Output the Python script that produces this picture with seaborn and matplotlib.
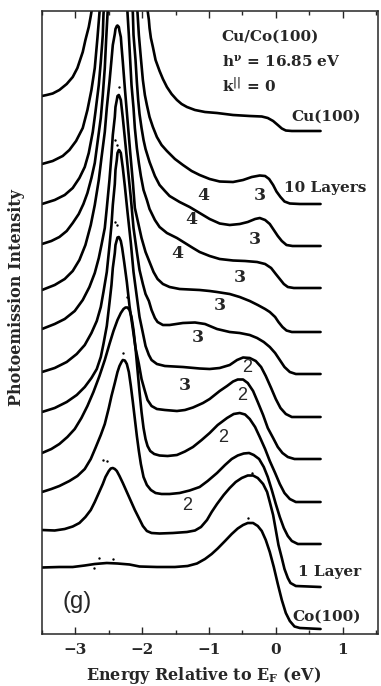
import matplotlib
matplotlib.use("Agg")
import matplotlib.pyplot as plt
import numpy as np
import pandas as pd
import seaborn as sns
from matplotlib.ticker import MultipleLocator

# Normal-emission photoemission spectra, Cu overlayers on Co(100), hv = 16.85 eV.
# Energies in eV relative to E_F, intensities in arbitrary units (0 = level above E_F).
# Spectra whose Cu d-band peak runs off scale carry an estimated off-scale maximum.

cu100_energy = [-3.50, -3.43, -3.34, -3.24, -3.13, -3.04, -2.97, -2.89, -2.85, -2.80, -2.77,
                -2.75, -2.68, -2.55, -2.40, -2.20, -2.02, -1.92, -1.90, -1.89, -1.87, -1.84,
                -1.80, -1.74, -1.69, -1.63, -1.56, -1.48, -1.41, -1.33, -1.21, -1.06, -0.88,
                -0.64, -0.39, -0.21, -0.12, -0.04, 0.03, 0.09, 0.15, 0.24, 0.67]
cu100_counts = [35, 36, 37.5, 41, 47, 54, 63, 79, 91, 104, 115,
                123, 200, 300, 350, 300, 200, 121, 111, 103, 93, 84,
                71, 60, 52, 44, 37, 31, 27, 24, 21, 19, 18,
                16, 15, 14.5, 13, 10, 6, 2.5, 0.5, 0, 0]

ml10_energy = [-3.50, -3.34, -3.19, -3.09, -2.99, -2.89, -2.82, -2.76, -2.71, -2.67, -2.64,
               -2.57, -2.45, -2.35, -2.22, -2.12, -2.07, -2.05, -2.02, -1.99, -1.96, -1.93,
               -1.89, -1.84, -1.78, -1.71, -1.63, -1.51, -1.39, -1.26, -1.14, -0.99, -0.84,
               -0.64, -0.49, -0.36, -0.24, -0.16, -0.10, -0.04, 0.01, 0.07, 0.13, 0.21,
               0.36, 0.67]
ml10_counts = [40, 43, 48, 54, 63, 76, 94, 114, 136, 166, 191,
               260, 330, 350, 320, 250, 191, 169, 146, 124, 109, 99,
               87, 77, 67, 59, 53, 45, 39, 33, 29, 25, 22.5,
               22, 24, 27, 28.5, 28, 25, 19, 12.5, 7, 2.5, 0.5,
               0, 0]

ml9_energy = [-3.50, -3.31, -3.16, -3.04, -2.94, -2.86, -2.80, -2.74, -2.70, -2.65, -2.62,
              -2.59, -2.58, -2.52, -2.42, -2.34, -2.24, -2.17, -2.14, -2.13, -2.10, -2.08,
              -2.06, -2.04, -2.01, -1.98, -1.95, -1.89, -1.81, -1.74, -1.66, -1.59, -1.44,
              -1.29, -1.14, -0.99, -0.84, -0.69, -0.54, -0.42, -0.31, -0.24, -0.16, -0.09,
              -0.03, 0.03, 0.09, 0.16, 0.25, 0.67]
ml9_counts = [42, 46, 51, 58, 68, 79, 93, 114, 134, 161, 184,
              211, 231, 300, 360, 370, 330, 260, 233, 211, 186, 164,
              146, 132, 118, 106, 97, 84, 70, 61, 55, 50, 44,
              39, 33, 27, 22.5, 21, 22, 24, 27, 28, 26, 22,
              16, 10, 5, 1, 0, 0]

ml8_energy = [-3.50, -3.36, -3.24, -3.13, -3.04, -2.95, -2.88, -2.82, -2.76, -2.71, -2.67,
              -2.62, -2.59, -2.56, -2.54, -2.52, -2.46, -2.38, -2.30, -2.24, -2.22, -2.20,
              -2.18, -2.16, -2.13, -2.11, -2.08, -2.05, -2.02, -1.98, -1.93, -1.89, -1.81,
              -1.74, -1.63, -1.48, -1.36, -1.24, -1.14, -0.99, -0.84, -0.64, -0.46, -0.28,
              -0.16, -0.07, 0.00, 0.06, 0.12, 0.18, 0.27, 0.67]
ml8_counts = [44, 47, 51, 57, 65, 74, 84, 95, 110, 125, 145,
              170, 193, 220, 248, 273, 340, 385, 370, 310, 275, 253,
              228, 203, 180, 160, 140, 125, 112, 98, 88, 79, 68,
              61, 55, 50, 45, 40, 36, 32, 29, 27.5, 27, 26,
              24, 20, 14, 9, 4, 1, 0, 0]

ml7_energy = [-3.50, -3.31, -3.16, -3.04, -2.94, -2.85, -2.77, -2.71, -2.65, -2.61, -2.56,
              -2.53, -2.49, -2.46, -2.44, -2.41, -2.40, -2.38, -2.37, -2.35, -2.34, -2.32,
              -2.31, -2.29, -2.26, -2.22, -2.18, -2.14, -2.11, -2.07, -2.01, -1.95, -1.89,
              -1.83, -1.77, -1.69, -1.59, -1.44, -1.29, -1.14, -0.99, -0.88, -0.69, -0.54,
              -0.39, -0.27, -0.16, -0.09, -0.01, 0.04, 0.10, 0.16, 0.24, 0.67]
ml7_counts = [42, 47, 53, 61, 72, 87, 107, 127, 152, 174, 200,
              224, 250, 272, 287, 298, 303, 306, 306.5, 305, 301, 295,
              286, 270, 244, 212, 180, 150, 124, 112, 94, 80, 70,
              60, 53, 48, 45, 43, 42.5, 42, 41, 40, 38, 35,
              31, 27, 23, 20, 15, 10, 5, 1.5, 0, 0]

ml6_energy = [-3.50, -3.31, -3.16, -3.01, -2.89, -2.79, -2.71, -2.65, -2.61, -2.56, -2.53,
              -2.49, -2.46, -2.44, -2.41, -2.40, -2.38, -2.37, -2.35, -2.34, -2.32, -2.31,
              -2.29, -2.26, -2.22, -2.17, -2.13, -2.08, -2.04, -1.99, -1.95, -1.90, -1.86,
              -1.81, -1.77, -1.69, -1.59, -1.39, -1.21, -1.06, -0.88, -0.69, -0.54, -0.39,
              -0.28, -0.18, -0.09, -0.01, 0.06, 0.13, 0.21, 0.30, 0.67]
ml6_counts = [45, 50, 55, 63, 74, 87, 101, 116, 129, 146, 166,
              194, 219, 239, 257, 267, 274, 278, 279, 277.5, 274, 268,
              256, 236, 209, 176, 146, 122, 104, 90, 80, 73, 64,
              56, 52, 49, 49, 51, 51.5, 50, 45, 42, 41, 39,
              36, 32, 27, 21, 14, 7, 2, 0, 0]

ml5_energy = [-3.50, -3.31, -3.13, -2.98, -2.86, -2.76, -2.68, -2.62, -2.58, -2.53, -2.49,
              -2.46, -2.44, -2.41, -2.40, -2.38, -2.37, -2.35, -2.34, -2.32, -2.31, -2.29,
              -2.26, -2.22, -2.17, -2.13, -2.08, -2.04, -1.99, -1.95, -1.90, -1.86, -1.78,
              -1.66, -1.39, -1.14, -0.99, -0.84, -0.69, -0.58, -0.49, -0.39, -0.30, -0.22,
              -0.15, -0.07, 0.00, 0.07, 0.15, 0.24, 0.67]
ml5_counts = [45, 49, 55, 63, 72, 84, 96, 110, 125, 145, 171,
              192, 212, 233, 247, 257, 264, 267, 266.5, 264, 259, 249,
              231, 205, 174, 145, 120, 100, 84, 71, 62, 57, 53,
              51, 50, 48.5, 48, 49, 52, 57, 59.5, 59, 56, 50,
              41, 29, 18, 9, 3, 0, 0]

ml4_energy = [-3.50, -3.31, -3.13, -2.98, -2.86, -2.76, -2.68, -2.62, -2.58, -2.53, -2.49,
              -2.46, -2.44, -2.41, -2.40, -2.38, -2.37, -2.35, -2.34, -2.32, -2.30, -2.27,
              -2.23, -2.19, -2.14, -2.10, -2.05, -2.01, -1.96, -1.92, -1.86, -1.78, -1.66,
              -1.48, -1.36, -1.24, -1.09, -0.99, -0.84, -0.73, -0.64, -0.57, -0.49, -0.42,
              -0.34, -0.27, -0.19, -0.12, -0.04, 0.03, 0.10, 0.18, 0.28, 0.67]
ml4_counts = [47, 51, 57, 64, 72, 81, 90, 102, 115, 133, 156,
              174, 191, 206, 214, 219, 221.5, 222, 221, 218, 211, 197,
              177, 153, 130, 111, 95, 80, 68, 59, 53, 50, 49,
              48, 49, 51.5, 56, 60, 68, 73, 77.5, 79.5, 79.5, 76,
              68, 57, 44, 31, 21, 12, 6, 2, 0, 0]

ml3_energy = [-3.50, -3.36, -3.24, -3.12, -3.01, -2.91, -2.82, -2.73, -2.64, -2.56, -2.49,
              -2.43, -2.37, -2.32, -2.28, -2.25, -2.22, -2.19, -2.16, -2.13, -2.10, -2.07,
              -2.04, -2.01, -1.98, -1.95, -1.92, -1.88, -1.82, -1.74, -1.62, -1.48, -1.36,
              -1.24, -1.11, -0.99, -0.87, -0.73, -0.63, -0.54, -0.46, -0.39, -0.31, -0.24,
              -0.16, -0.09, -0.01, 0.06, 0.13, 0.21, 0.30, 0.67]
ml3_counts = [49, 53, 58, 65, 73, 84, 96, 110, 126, 142, 158,
              171, 182, 189, 193, 194.5, 194.5, 192, 185, 172, 154, 132,
              110, 90, 74, 63, 56, 51, 48, 46.5, 46, 47, 50.5,
              55, 62, 69, 77, 84, 88, 89, 87.5, 83, 75, 65,
              53, 41, 29, 18, 9, 3, 0, 0]

ml2_energy = [-3.50, -3.36, -3.24, -3.09, -2.97, -2.86, -2.77, -2.70, -2.62, -2.56, -2.50,
              -2.46, -2.41, -2.37, -2.34, -2.31, -2.29, -2.26, -2.23, -2.20, -2.17, -2.14,
              -2.11, -2.08, -2.05, -2.02, -1.98, -1.93, -1.87, -1.80, -1.71, -1.59, -1.44,
              -1.29, -1.14, -1.02, -0.88, -0.76, -0.66, -0.57, -0.48, -0.40, -0.33, -0.25,
              -0.18, -0.12, -0.06, 0.00, 0.06, 0.12, 0.18, 0.24, 0.33, 0.67]
ml2_counts = [52, 55, 58, 63, 68, 75, 85, 96, 109, 120, 136,
              148, 161, 172, 178, 182, 184, 183.5, 180, 172, 158, 142,
              125, 108, 93, 80, 67, 59, 54, 51, 50, 50, 51,
              53.5, 57, 63, 71, 79, 85, 88.5, 90.5, 91, 89, 85,
              77, 67, 54, 40, 27, 16, 8, 3, 0, 0]

ml1_energy = [-3.50, -3.31, -3.16, -3.04, -2.94, -2.85, -2.77, -2.71, -2.65, -2.59, -2.55,
              -2.50, -2.47, -2.44, -2.41, -2.38, -2.34, -2.29, -2.23, -2.17, -2.11, -2.05,
              -1.99, -1.93, -1.86, -1.74, -1.54, -1.33, -1.21, -1.12, -1.03, -0.96, -0.88,
              -0.78, -0.69, -0.60, -0.51, -0.42, -0.34, -0.27, -0.19, -0.13, -0.09, -0.04,
              0.00, 0.04, 0.09, 0.13, 0.18, 0.22, 0.30, 0.67]
ml1_counts = [57, 56.5, 58, 60.5, 64, 70, 77, 85, 94, 103, 110,
              116, 118.5, 119, 118, 116, 111, 104, 95, 86, 77, 69,
              61, 56, 54, 53.5, 54, 55, 56.5, 60, 67, 75, 83,
              92, 99, 105, 109, 111.5, 111.5, 109, 103, 95, 85, 72,
              57, 42, 29, 18, 9, 4, 1, 0]

co100_energy = [-3.50, -3.24, -3.04, -2.86, -2.71, -2.53, -2.37, -2.19, -2.04, -1.78, -1.51,
                -1.32, -1.18, -1.06, -0.96, -0.87, -0.76, -0.66, -0.57, -0.49, -0.42, -0.34,
                -0.27, -0.21, -0.15, -0.09, -0.03, 0.03, 0.09, 0.15, 0.21, 0.28, 0.36, 0.67]
co100_counts = [61.5, 62, 62, 63.5, 65, 66, 65.5, 64.5, 62.5, 62, 62,
                63, 65.5, 70, 75, 80.5, 88, 95, 100.5, 104, 106, 106,
                103, 98, 89, 77, 62, 45, 29, 16, 8, 2.5, 1, 0]

spectrum_names = ["Cu(100)", "10 Layers", "ML9", "ML8", "ML7", "ML6", "ML5",
                  "ML4", "ML3", "ML2", "1 Layer", "Co(100)"]
spectrum_offsets = [503, 430, 388, 346, 302, 260, 217, 175, 132, 90, 47, 5]
spectrum_energies = [cu100_energy, ml10_energy, ml9_energy, ml8_energy, ml7_energy,
                     ml6_energy, ml5_energy, ml4_energy, ml3_energy, ml2_energy,
                     ml1_energy, co100_energy]
spectrum_counts = [cu100_counts, ml10_counts, ml9_counts, ml8_counts, ml7_counts,
                   ml6_counts, ml5_counts, ml4_counts, ml3_counts, ml2_counts,
                   ml1_counts, co100_counts]

# stray raw data points lying off the smoothed traces (stacked scale)
stray_energy = [-2.34, -2.37, -2.40, -2.38, -2.41, -2.23, -2.29, -2.59, -2.52,
                -0.42, -0.36, -2.64, -2.44, -2.72]
stray_height = [547, 489, 494, 409, 412, 337, 281, 174, 173,
                116, 161, 76, 75, 66]

# quantum-well state labels: (text, energy, height)
qw_labels_bold = [("4", -1.08, 439), ("4", -1.27, 414), ("4", -1.47, 381),
                  ("3", -0.24, 439), ("3", -0.31, 395), ("3", -0.54, 356),
                  ("3", -0.84, 329), ("3", -1.17, 297), ("3", -1.36, 249)]
qw_labels_light = [("2", -0.43, 266), ("2", -0.51, 239), ("2", -0.79, 197), ("2", -1.32, 128)]

frames = []
for name, off, e, c in zip(spectrum_names, spectrum_offsets, spectrum_energies, spectrum_counts):
    frames.append(pd.DataFrame({"energy": e,
                                "intensity": np.asarray(c, float) + off,
                                "spectrum": name}))
df = pd.concat(frames, ignore_index=True)

sns.set_style("ticks")
plt.rcParams["font.family"] = ["DejaVu Serif"]
plt.rcParams["font.weight"] = "bold"
plt.rcParams["mathtext.fontset"] = "dejavuserif"
plt.rcParams["mathtext.default"] = "bf"

fig = plt.figure(figsize=(3.81, 6.86), dpi=100)
ax = fig.add_axes([42 / 381, 1 - 634 / 686, 336 / 381, 623 / 686])

sns.lineplot(data=df, x="energy", y="intensity", units="spectrum", estimator=None,
             sort=False, color="black", linewidth=1.9, ax=ax, legend=False)
for ln in ax.lines:
    ln.set_solid_joinstyle("round")
    ln.set_solid_capstyle("round")

sns.scatterplot(x=stray_energy, y=stray_height, s=3, color="black", linewidth=0,
                ax=ax, legend=False)

ax.set_xlim(-3.5, 1.53)
ax.set_ylim(0, 623)
ax.xaxis.set_major_locator(MultipleLocator(1))
ax.xaxis.set_minor_locator(MultipleLocator(0.5))
ax.set_xticks([-3, -2, -1, 0, 1])
ax.set_xticklabels(["\u22123", "\u22122", "\u22121", "0", "1"])
ax.set_yticks([])
ax.tick_params(axis="x", which="both", direction="in", top=True, bottom=True,
               labelsize=11, pad=6.5, width=1.0)
ax.tick_params(axis="x", which="major", length=5)
ax.tick_params(axis="x", which="minor", length=3)
for s in ax.spines.values():
    s.set_linewidth(1.1)

ax.set_xlabel(r"Energy Relative to E$_{F}$ (eV)", fontsize=11.5, fontweight="bold")
ax.xaxis.set_label_coords(0.48, -0.049)
ax.set_ylabel("Photoemission Intensity", fontsize=11.5, fontweight="bold")
ax.yaxis.set_label_coords(-0.05, 0.54)

# header
hdr = dict(fontsize=11, fontweight="bold", ha="left", va="center")
ax.text(-0.81, 597, "Cu/Co(100)", **hdr)
ax.text(-0.81, 572, r"h$^{\nu}$ = 16.85 eV", **hdr)
ax.text(-0.81, 549, r"k$^{||}$ = 0", **hdr)

# spectrum names
nm = dict(fontsize=11, fontweight="bold", ha="left", va="center")
ax.text(0.24, 517, "Cu(100)", **nm)
ax.text(0.13, 446, "10 Layers", **nm)
ax.text(0.33, 62, "1 Layer", **nm)
ax.text(0.25, 17, "Co(100)", **nm)

for t, x, y in qw_labels_bold:
    ax.text(x, y, t, fontsize=12.5, fontweight="bold", ha="center", va="center")
for t, x, y in qw_labels_light:
    ax.text(x, y, t, fontsize=13, fontweight="normal", ha="center", va="center",
            family=["Liberation Sans"])

ax.text(-2.98, 32, "(g)", fontsize=17, fontweight="normal", ha="center", va="center",
        family=["Liberation Sans"])

fig.savefig("out.png", dpi=100)
